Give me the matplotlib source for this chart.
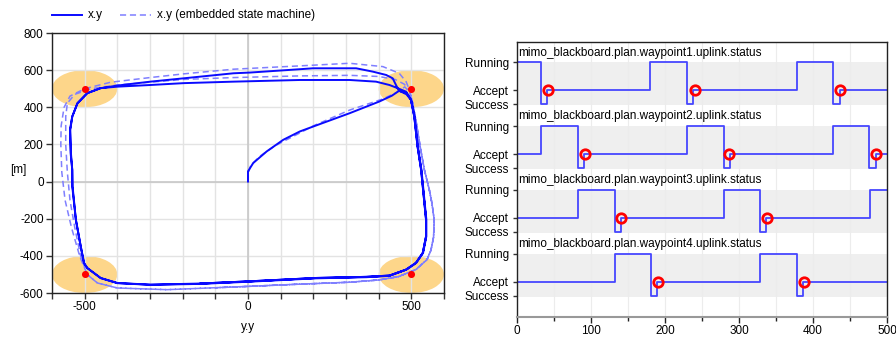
import matplotlib
matplotlib.use("Agg")
import matplotlib.pyplot as plt
from matplotlib.patches import Ellipse
from matplotlib.lines import Line2D
from matplotlib.ticker import MultipleLocator, FixedLocator

plt.rcParams['font.family'] = ['Liberation Sans', 'DejaVu Sans']
plt.rcParams['font.size'] = 8.5
plt.rcParams['axes.unicode_minus'] = False

# ---------------- data: left trajectory plot ----------------
waypoints_x = [-500, 500, -500, 500]
waypoints_y = [500, 500, -500, -500]
waypoint_radius = 100

solid_x = [0, 0, 16, 57, 108, 159, 199, 311, 402, 440, 462, 485, 499,
           509, 519, 530, 540, 545, 545, 535, 514, 484, 433, 362, 209, 6, -146, -299, -400, -451, -492, -502, -512, -527, -538, -538, -543, -545, -538, -522, -492, -451, -400,
           -299, -197, -45, 159, 311, 392, 433, 458, 484, 499,
           510, 520, 531, 541, 546, 546, 536, 515, 485, 433, 362, 209, 6, -146, -299, -400, -451, -492, -502, -512, -527, -537, -538, -542, -544, -538, -522, -492, -451,
           -400, -299, -197, -45, 6, 159, 199, 331, 382, 423, 443, 453, 462, 485, 499,
           509, 519, 530, 540, 545, 545, 535, 514, 484, 433, 362, 209, 6, -146]
solid_y = [0, 55, 100, 162, 225, 270, 296, 368, 431, 462, 488, 478, 440,
           350, 189, 63, -116, -205, -295, -384, -438, -474, -506, -513, -519, -537, -549, -555, -546, -519, -465, -438, -349, -205, -26, 63, 153, 279, 350, 422, 476, 503, 511,
           520, 530, 538, 547, 547, 538, 520, 503, 484, 440,
           350, 189, 63, -116, -205, -295, -384, -438, -474, -508, -515, -521, -539, -551, -556, -547, -520, -466, -440, -350, -205, -26, 63, 153, 279, 350, 422, 476, 503,
           517, 538, 556, 583, 587, 605, 610, 610, 592, 574, 556, 520, 490, 470, 440,
           350, 189, 63, -116, -205, -295, -384, -438, -474, -506, -513, -519, -537, -549]

dashed_x = [0, 0, 8, 35, 85, 159, 200, 311, 413, 455, 480, 495, 504,
            515, 527, 540, 555, 563, 570, 568, 560, 548, 514, 460, 400, 311, 150, 6, -248, -400, -461, -492, -512, -530, -545, -553, -558, -558, -553, -530, -480, -400, -300, -197, -45, 159, 311, 400, 450, 478, 495, 504,
            515, 527, 540, 555, 563, 570, 568, 560, 548, 514, 460, 400, 311, 150, 6, -248, -400, -461, -492, -515, -540, -560, -570, -573, -572, -563, -545, -500, -420, -300, -197, -45, 159, 311, 413, 463, 484, 495, 504,
            515, 527, 540, 555, 563, 570, 568, 560, 548, 514, 460, 400, 311, 150, 6, -100]
dashed_y = [0, 40, 85, 135, 195, 262, 300, 385, 445, 480, 510, 480, 422,
            320, 189, 63, -44, -116, -205, -300, -370, -420, -474, -512, -530, -542, -553, -564, -582, -573, -546, -501, -403, -250, -100, 50, 200, 350, 422, 470, 500, 520, 535, 550, 560, 569, 572, 566, 550, 525, 490, 422,
            320, 189, 63, -44, -116, -205, -300, -370, -420, -474, -512, -530, -542, -553, -564, -582, -573, -546, -501, -403, -250, -100, 50, 200, 300, 400, 460, 500, 535, 560, 580, 605, 623, 637, 619, 583, 538, 490, 422,
            320, 189, 63, -44, -116, -205, -300, -370, -420, -474, -512, -530, -542, -553, -564, -572]

# ---------------- data: right status plots ----------------
state_names = ['Success', 'Accept', 'Running']
state_values = {'Success': 0, 'Accept': 1, 'Running': 3}

wp_titles = ['mimo_blackboard.plan.waypoint1.uplink.status',
             'mimo_blackboard.plan.waypoint2.uplink.status',
             'mimo_blackboard.plan.waypoint3.uplink.status',
             'mimo_blackboard.plan.waypoint4.uplink.status']

wp1_t = [0, 32, 40, 180, 230, 238, 379, 427, 436, 500]
wp1_s = ['Running', 'Success', 'Accept', 'Running', 'Success', 'Accept', 'Running', 'Success', 'Accept', 'Accept']
wp2_t = [0, 32, 82, 90, 230, 280, 288, 427, 476, 485, 500]
wp2_s = ['Accept', 'Running', 'Success', 'Accept', 'Running', 'Success', 'Accept', 'Running', 'Success', 'Accept', 'Accept']
wp3_t = [0, 83, 132, 140, 280, 329, 337, 477, 500]
wp3_s = ['Accept', 'Running', 'Success', 'Accept', 'Running', 'Success', 'Accept', 'Running', 'Running']
wp4_t = [0, 132, 181, 189, 329, 378, 387, 500]
wp4_s = ['Accept', 'Running', 'Success', 'Accept', 'Running', 'Success', 'Accept', 'Accept']

wp1_events = [42, 240, 437]
wp2_events = [92, 287, 485]
wp3_events = [140, 338]
wp4_events = [190, 388]

wp_t = [wp1_t, wp2_t, wp3_t, wp4_t]
wp_s = [wp1_s, wp2_s, wp3_s, wp4_s]
wp_events = [wp1_events, wp2_events, wp3_events, wp4_events]

# ---------------- figure ----------------
W, H = 896, 337
fig = plt.figure(figsize=(W / 100, H / 100), dpi=100)

def fx(px):
    return px / W

def fy(py):
    return 1 - py / H

# Left axes
axL = fig.add_axes([fx(52), fy(293), fx(444) - fx(52), fy(33) - fy(293)])
axL.set_xlim(-600, 600)
axL.set_ylim(-600, 800)
axL.set_axisbelow('line')

for ex, ey in zip(waypoints_x, waypoints_y):
    axL.add_patch(Ellipse((ex, ey), 2 * waypoint_radius, 2 * waypoint_radius,
                          facecolor='#fdd68a', edgecolor='none', zorder=1))

axL.xaxis.set_major_locator(FixedLocator([-500, 0, 500]))
axL.xaxis.set_minor_locator(MultipleLocator(100))
axL.yaxis.set_major_locator(MultipleLocator(200))
axL.grid(True, which='both', axis='x', color='#e3e3e3', lw=1.0)
axL.grid(True, which='major', axis='y', color='#e3e3e3', lw=1.0)
axL.axvline(0, color='#c8c8c8', lw=1.2, zorder=1.6)
axL.axhline(0, color='#c8c8c8', lw=1.2, zorder=1.6)

axL.plot(dashed_x, dashed_y, color='#7f7fff', lw=1.1, ls=(0, (4, 2.5)), zorder=2)
axL.plot(solid_x, solid_y, color='#0a0aff', lw=1.4, zorder=3)
axL.scatter(waypoints_x, waypoints_y, s=26, color='#ff0000', zorder=4, linewidths=0)

axL.tick_params(which='both', direction='out', length=4, width=1, color='#333333',
                labelsize=8.5, labelcolor='black', pad=2)
for sp in axL.spines.values():
    sp.set_color('#222222')
    sp.set_linewidth(1.0)

fig.text(fx(18), fy(170), '[m]', ha='center', va='center', fontsize=8.5)
fig.text(fx(248), fy(327), 'y.y', ha='center', va='center', fontsize=8.5)

# legend (manual, figure coordinates)
fig.add_artist(Line2D([fx(52), fx(82)], [fy(15), fy(15)], color='#0a0aff', lw=1.4))
fig.text(fx(88), fy(15), 'x.y', ha='left', va='center', fontsize=8.5)
fig.add_artist(Line2D([fx(120), fx(151)], [fy(15), fy(15)], color='#7f7fff', lw=1.1,
                      ls=(0, (4, 2.5))))
fig.text(fx(157), fy(15), 'x.y (embedded state machine)', ha='left', va='center', fontsize=8.5)

# Right axes
axR = fig.add_axes([fx(517), fy(317), fx(887) - fx(517), fy(42) - fy(317)])
step = 4.55
axR.set_xlim(0, 500)
axR.set_ylim(-3 * step - 1.52, 4.45)
axR.xaxis.set_major_locator(MultipleLocator(100))
axR.xaxis.set_minor_locator(MultipleLocator(50))
axR.grid(True, which='both', axis='x', color='#ececec', lw=0.8, zorder=0)
axR.set_axisbelow(True)

yt, yl = [], []
for k in range(4):
    off = -k * step
    axR.axhspan(off - 0.08, off + 3, color='#efefef', lw=0, zorder=0.5)
    vals = [state_values[s] + off for s in wp_s[k]]
    axR.plot(wp_t[k], vals, drawstyle='steps-post', color='#4646ff', lw=1.3, zorder=2)
    ev = wp_events[k]
    axR.plot(ev, [state_values['Accept'] + off] * len(ev), 'o', ms=6.8, mfc='none',
             mec='#ff0000', mew=2, zorder=3)
    axR.text(1.5, off + 3.7, wp_titles[k], ha='left', va='center', fontsize=8.5, zorder=4)
    for name in state_names:
        yt.append(state_values[name] + off)
        yl.append(name)

axR.set_yticks(yt)
axR.set_yticklabels(yl)
axR.tick_params(axis='y', direction='out', length=3, width=1, color='#333333',
                labelsize=8.5, pad=3)
axR.tick_params(axis='x', which='major', direction='out', length=4, width=1,
                color='#222222', labelsize=8.5, pad=2)
axR.tick_params(axis='x', which='minor', direction='out', length=3, width=1,
                color='#222222')
for name, sp in axR.spines.items():
    sp.set_color('#222222')
    sp.set_linewidth(1.0)
axR.spines['bottom'].set_color('#999999')
axR.spines['bottom'].set_linewidth(1.5)

fig.savefig('out.png', dpi=100)
